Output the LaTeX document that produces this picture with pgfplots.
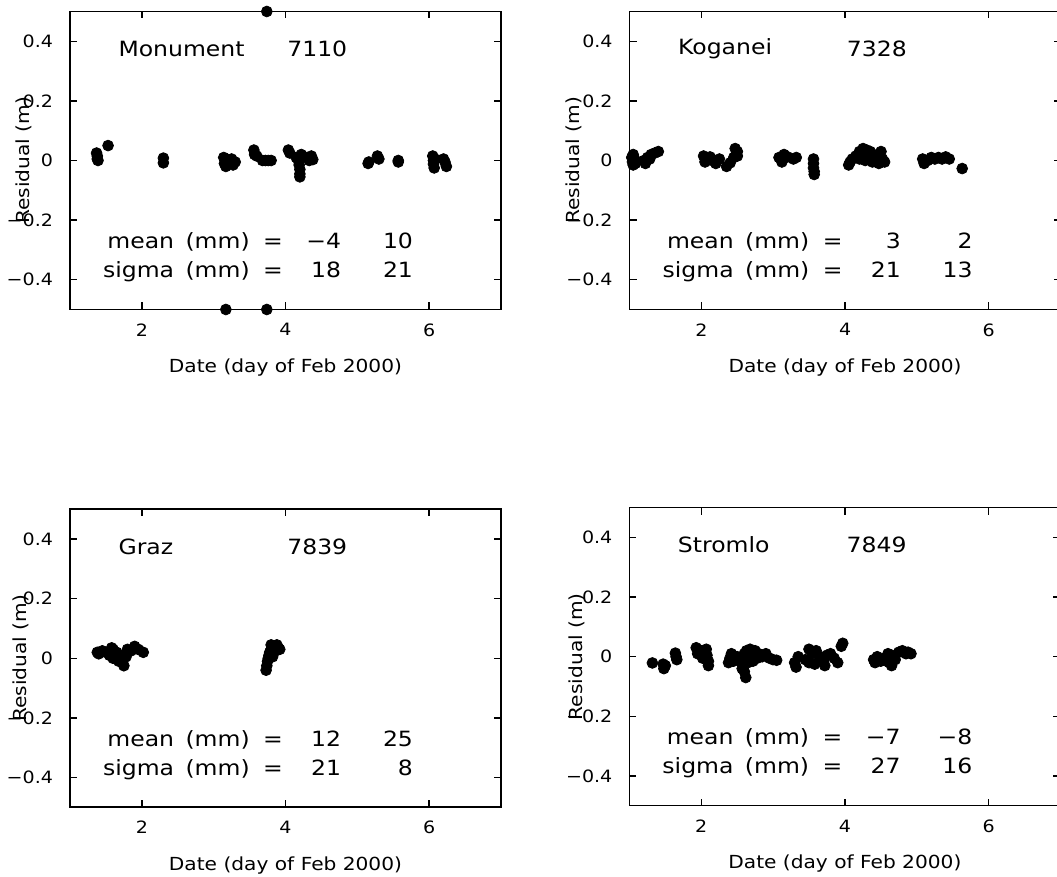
\documentclass[border=0pt]{standalone}
\usepackage{fontspec}
\setmainfont{DejaVu Sans}[FakeStretch=1.12]
\usepackage{pgfplots}
\pgfplotsset{compat=1.18}

\pgfplotsset{
  resid/.style={
    scale only axis, width=215.5pt, height=149pt,
    xmin=1, xmax=7, ymin=-0.5, ymax=0.5,
    xtick={2,4,6}, xticklabels={2,4,6},
    ytick={-0.4,-0.2,0,0.2,0.4}, yticklabels={−0.4,−0.2,0,0.2,0.4},
    tick align=inside, major tick length=3.5pt,
    axis line style={line width=0.8pt},
    every tick/.style={black, line width=0.7pt},
    tick label style={font=\fontsize{8.5}{9}\selectfont},
    yticklabel style={xshift=-5pt},
    xticklabel style={yshift=-3.5pt},
    xlabel={Date (day of Feb 2000)},
    xlabel style={at={(axis description cs:0.5,0)}, anchor=center, yshift=-29pt, font=\fontsize{9}{10}\selectfont},
    ylabel={Residual (m)},
    ylabel style={anchor=center, font=\fontsize{9}{10}\selectfont},
    clip=false,
  },
}
\tikzset{annotstyle/.style={font=\fontsize{10.5}{12}\selectfont, inner sep=0pt},
  dots/.style={black, only marks, mark=*, mark size=2.7pt, mark options={draw=black, fill=black}}}

\newcommand{\annot}[6]{%
  \node[annotstyle, anchor=west] at (axis cs:1.67,0.375) {#1};
  \node[annotstyle, anchor=west] at (axis cs:4.02,0.375) {#2};
  \node[annotstyle, anchor=east] at (axis cs:3.97,-0.28) {\strut mean\hspace{2pt} (mm)\hspace{3pt} =};
  \node[annotstyle, anchor=east] at (axis cs:4.78,-0.28) {\strut #3};
  \node[annotstyle, anchor=east] at (axis cs:5.78,-0.28) {\strut #4};
  \node[annotstyle, anchor=east] at (axis cs:3.97,-0.377) {\strut sigma\hspace{2pt} (mm)\hspace{3pt} =};
  \node[annotstyle, anchor=east] at (axis cs:4.78,-0.377) {\strut #5};
  \node[annotstyle, anchor=east] at (axis cs:5.78,-0.377) {\strut #6};
}

\begin{document}
\begin{tikzpicture}
\useasboundingbox (0,0) rectangle (528.5pt,438.5pt);

% Monument
\begin{axis}[resid, at={(35pt,283.75pt)}, anchor=south west,
  ylabel style={at={(axis description cs:-0.107,0.5)}}]
\addplot[dots] coordinates {
(1.37,0.025) (1.38,0.015) (1.38,0.005) (1.39,0.0) (1.53,0.05)
(2.3,0.008) (2.3,-0.008)
(3.14,0.01) (3.15,-0.01) (3.17,-0.02) (3.2,0.0) (3.22,-0.01) (3.25,0.005) (3.27,-0.015) (3.3,-0.005) (3.18,0.005)
(3.56,0.035) (3.57,0.02) (3.6,0.015)
(3.68,0.0) (3.72,0.0) (3.76,0.0) (3.8,0.0)
(4.04,0.035) (4.06,0.025)
(4.15,0.01) (4.18,0.0) (4.19,-0.015) (4.2,-0.03) (4.2,-0.045) (4.2,-0.055) (4.22,0.02)
(4.3,0.01) (4.33,0.0) (4.36,0.015) (4.38,0.003)
(5.15,-0.01) (5.16,-0.005)
(5.28,0.015) (5.3,0.005)
(5.57,0.0) (5.57,-0.005)
(6.05,0.015) (6.06,0.0) (6.06,-0.012) (6.07,-0.025) (6.08,0.005)
(6.2,0.005) (6.22,-0.005) (6.24,-0.02)
(3.74,0.5) (3.17,-0.5) (3.74,-0.5)
};
\annot{Monument}{7110}{−4}{10}{18}{21}
\end{axis}

% Koganei
\begin{axis}[resid, at={(314.8pt,283.75pt)}, anchor=south west,
  ylabel style={at={(axis description cs:-0.13,0.5)}}]
\addplot[dots] coordinates {
(1.03,0.01) (1.04,-0.005) (1.05,-0.015) (1.07,0.005) (1.08,-0.01) (1.05,0.02)
(1.2,0.0) (1.22,-0.01) (1.25,0.01) (1.3,0.02) (1.35,0.025) (1.4,0.03) (1.28,0.005)
(2.03,0.015) (2.05,-0.005) (2.08,0.005) (2.12,0.012) (2.15,0.0) (2.2,-0.01) (2.25,0.005)
(2.35,-0.02) (2.4,-0.008) (2.45,0.01) (2.5,0.03) (2.47,0.04) (2.5,0.015)
(3.08,0.01) (3.12,-0.005) (3.15,0.02) (3.2,0.012) (3.28,0.005) (3.32,0.01)
(3.56,0.005) (3.56,-0.01) (3.56,-0.025) (3.57,-0.037) (3.57,-0.047)
(4.05,-0.015) (4.07,-0.005) (4.1,0.005) (4.15,0.015) (4.2,0.03) (4.25,0.04) (4.3,0.035) (4.33,0.02) (4.35,0.03) (4.38,-0.005) (4.4,0.01) (4.45,0.02) (4.47,-0.01) (4.5,0.03) (4.52,0.005) (4.55,-0.005) (4.2,0.005) (4.28,0.0)
(5.08,0.005) (5.1,-0.01) (5.15,0.0) (5.2,0.01) (5.25,0.005) (5.3,0.01) (5.35,0.005) (5.4,0.012) (5.45,0.005)
(5.63,-0.027)
};
\annot{Koganei}{7328}{3}{2}{21}{13}
\end{axis}

% Graz
\begin{axis}[resid, at={(35pt,34.85pt)}, anchor=south west,
  ylabel style={at={(axis description cs:-0.114,0.5)}}]
\addplot[dots] coordinates {
(1.38,0.02) (1.4,0.015) (1.45,0.025) (1.5,0.02) (1.55,0.01) (1.58,0.035) (1.6,0.03) (1.6,0.0) (1.65,0.02) (1.68,-0.01) (1.7,0.01) (1.72,-0.01) (1.75,-0.025) (1.78,0.005) (1.8,0.03) (1.85,0.025) (1.9,0.04) (1.95,0.03) (2.02,0.02)
(3.73,-0.04) (3.74,-0.025) (3.75,-0.01) (3.76,0.0) (3.77,0.01) (3.78,0.02) (3.8,0.03) (3.82,0.005) (3.84,0.04) (3.86,0.025) (3.88,0.045) (3.9,0.035) (3.92,0.03) (3.8,0.045) (3.83,0.015)
};
\annot{Graz}{7839}{12}{25}{21}{8}
\end{axis}

% Stromlo
\begin{axis}[resid, at={(314.7pt,35.65pt)}, anchor=south west,
  ylabel style={at={(axis description cs:-0.121,0.5)}}]
\addplot[dots] coordinates {
(1.32,-0.021)
(1.47,-0.025) (1.48,-0.04) (1.5,-0.03)
(1.64,0.012) (1.65,0.0) (1.66,-0.01)
(1.93,0.03) (1.95,0.01) (2.0,0.02) (2.02,-0.005) (2.05,0.015) (2.07,0.025) (2.08,0.005) (2.1,-0.015) (2.1,-0.03)
(2.38,-0.02) (2.4,-0.005) (2.42,0.01) (2.45,-0.015) (2.5,0.0) (2.55,-0.01) (2.57,-0.04) (2.58,-0.03) (2.6,-0.05) (2.6,0.01) (2.62,-0.07) (2.63,0.02) (2.65,-0.02) (2.68,0.025) (2.7,0.0) (2.72,-0.015) (2.75,0.02) (2.78,-0.005) (2.8,0.01) (2.85,0.0) (2.9,0.01) (2.95,-0.005) (3.0,-0.01) (3.05,-0.012)
(3.3,-0.02) (3.32,-0.035) (3.35,0.0) (3.45,-0.01) (3.5,-0.02) (3.5,0.025) (3.55,0.01) (3.58,-0.025) (3.6,0.02) (3.65,0.0) (3.7,-0.015) (3.72,-0.03) (3.75,0.005) (3.8,0.01) (3.85,-0.005) (3.9,-0.02) (3.95,0.035) (3.97,0.045)
(4.4,-0.01) (4.42,-0.02) (4.45,0.0) (4.5,-0.015) (4.55,-0.005) (4.58,-0.015) (4.6,0.01) (4.62,-0.02) (4.65,-0.03) (4.65,0.005) (4.68,0.0) (4.7,-0.01) (4.75,0.015) (4.8,0.02) (4.85,0.01) (4.88,0.015) (4.92,0.01)
};
\annot{Stromlo}{7849}{−7}{−8}{27}{16}
\end{axis}
\end{tikzpicture}
\end{document}
